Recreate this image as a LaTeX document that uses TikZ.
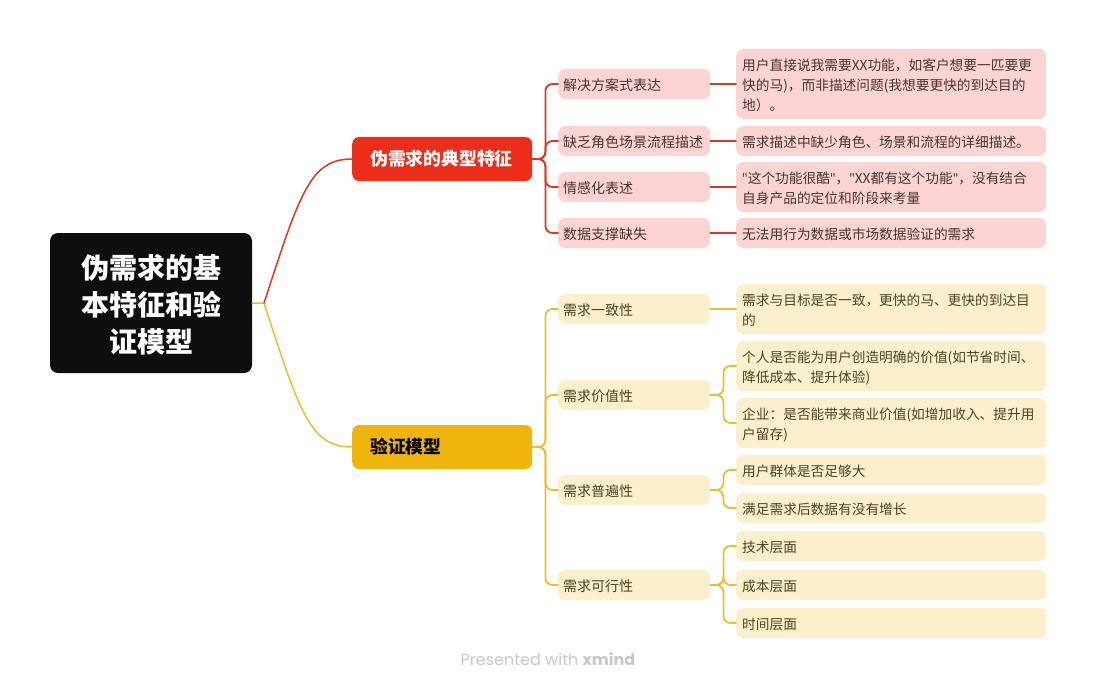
\documentclass[tikz,border=0pt]{standalone}
\usepackage{fontspec}
\setmainfont{Noto Sans CJK SC}
\newfontfamily\footfont{Poppins}
\newfontfamily\latinfont{Noto Sans}
\usetikzlibrary{positioning}

\definecolor{rootbg}{HTML}{0E0E0E}
\definecolor{redtop}{HTML}{EB2D1A}
\definecolor{redline}{HTML}{D63A22}
\definecolor{redfill}{HTML}{FCD4D1}
\definecolor{redtext}{HTML}{4A3432}
\definecolor{yeltop}{HTML}{F0B50C}
\definecolor{yelline}{HTML}{EBBD30}
\definecolor{yelfill}{HTML}{FCEFCC}
\definecolor{yeltext}{HTML}{4E421F}

\newcommand{\boxstrut}{\rule[-3.5pt]{0pt}{20pt}}
\newcommand{\q}{{\latinfont\symbol{34}}}

\begin{document}
\begin{tikzpicture}[x=1pt,y=-1pt,line cap=round,
  root node/.style={fill=rootbg,text=white,rounded corners=8pt,minimum width=202pt,minimum height=140pt,align=center,font=\fontsize{28}{37}\selectfont\bfseries},
  main node/.style={anchor=west,rounded corners=7pt,text width=144pt,inner xsep=18pt,minimum height=44pt,align=left,font=\fontsize{17.8}{22}\selectfont\bfseries},
  sub node/.style={anchor=west,rounded corners=7pt,text width=142pt,inner xsep=5pt,inner ysep=5pt,align=left,font=\fontsize{14}{20}\selectfont,execute at begin node=\boxstrut,execute at end node=\boxstrut},
  leaf node/.style={anchor=west,rounded corners=7pt,text width=298pt,inner xsep=6pt,inner ysep=5pt,align=left,font=\fontsize{13.7}{20}\selectfont,execute at begin node=\boxstrut,execute at end node=\boxstrut},
  red link/.style={draw=redline,line width=1.8pt,rounded corners=7pt},
  yel link/.style={draw=yelline,line width=1.8pt,rounded corners=7pt}]
  \useasboundingbox (0,0) rectangle (1097,690);

  % centre and main topics
  \node[root node] (0) at (151,303) {\rule{0pt}{28pt}伪需求的基\\本特征和验\\证模型};
  \node[main node,fill=redtop,text=white] (1) at (352,159) {伪需求的典型特征};
  \node[main node,fill=yeltop,text=black] (2) at (352,447) {验证模型};
  \coordinate (j0) at (264,303);

  % typical features
  \node[sub node,fill=redfill,text=redtext] (11) at (558,84) {解决方案式表达};
  \node[sub node,fill=redfill,text=redtext] (12) at (558,141) {缺乏角色场景流程描述};
  \node[sub node,fill=redfill,text=redtext] (13) at (558,187) {情感化表述};
  \node[sub node,fill=redfill,text=redtext] (14) at (558,233) {数据支撑缺失};

  \node[leaf node,fill=redfill,text=redtext] (111) at (736,84) {用户直接说我需要XX功能，如客户想要一匹要更\\快的马)，而非描述问题(我想要更快的到达目的\\地）。};
  \node[leaf node,fill=redfill,text=redtext] (121) at (736,141) {需求描述中缺少角色、场景和流程的详细描述。};
  \node[leaf node,fill=redfill,text=redtext] (131) at (736,187) {\q 这个功能很酷\q，\q XX都有这个功能\q，没有结合\\自身产品的定位和阶段来考量};
  \node[leaf node,fill=redfill,text=redtext] (141) at (736,233) {无法用行为数据或市场数据验证的需求};

  % validation model
  \node[sub node,fill=yelfill,text=yeltext] (21) at (558,309) {需求一致性};
  \node[sub node,fill=yelfill,text=yeltext] (22) at (558,395) {需求价值性};
  \node[sub node,fill=yelfill,text=yeltext] (23) at (558,490) {需求普遍性};
  \node[sub node,fill=yelfill,text=yeltext] (24) at (558,585) {需求可行性};

  \node[leaf node,fill=yelfill,text=yeltext] (211) at (736,309) {需求与目标是否一致，更快的马、更快的到达目\\的};
  \node[leaf node,fill=yelfill,text=yeltext] (221) at (736,366) {个人是否能为用户创造明确的价值(如节省时间、\\降低成本、提升体验)};
  \node[leaf node,fill=yelfill,text=yeltext] (222) at (736,423) {企业：是否能带来商业价值(如增加收入、提升用\\户留存)};
  \node[leaf node,fill=yelfill,text=yeltext] (231) at (736,470) {用户群体是否足够大};
  \node[leaf node,fill=yelfill,text=yeltext] (232) at (736,508) {满足需求后数据有没有增长};
  \node[leaf node,fill=yelfill,text=yeltext] (241) at (736,546) {技术层面};
  \node[leaf node,fill=yelfill,text=yeltext] (242) at (736,585) {成本层面};
  \node[leaf node,fill=yelfill,text=yeltext] (243) at (736,623) {时间层面};

  \node[font=\footfont\fontsize{16}{18}\selectfont,text=black!22] (f) at (548,659) {Presented with \textbf{xmind}};

  % connectors
  \draw[yelline,line width=1.5pt] (0.east) -- (j0) .. controls +(36,110) and +(-42,0) .. (2.west);
  \draw[redline,line width=1.5pt] (j0) .. controls +(36,-110) and +(-42,0) .. (1.west);

  \foreach \s in {11,12,13,14}
    \path[red link] (1.east) -- ++(13,0) |- (\s.west);
  \foreach \s in {21,22,23,24}
    \path[yel link] (2.east) -- ++(13,0) |- (\s.west);

  \path[red link] (11) edge (111) (12) edge (121) (13) edge (131) (14) edge (141);
  \path[yel link] (21) edge (211);
  \foreach \a/\b in {22/221,22/222,23/231,23/232,24/241,24/242,24/243}
    \path[yel link] (\a.east) -- ++(13,0) |- (\b.west);
\end{tikzpicture}
\end{document}
